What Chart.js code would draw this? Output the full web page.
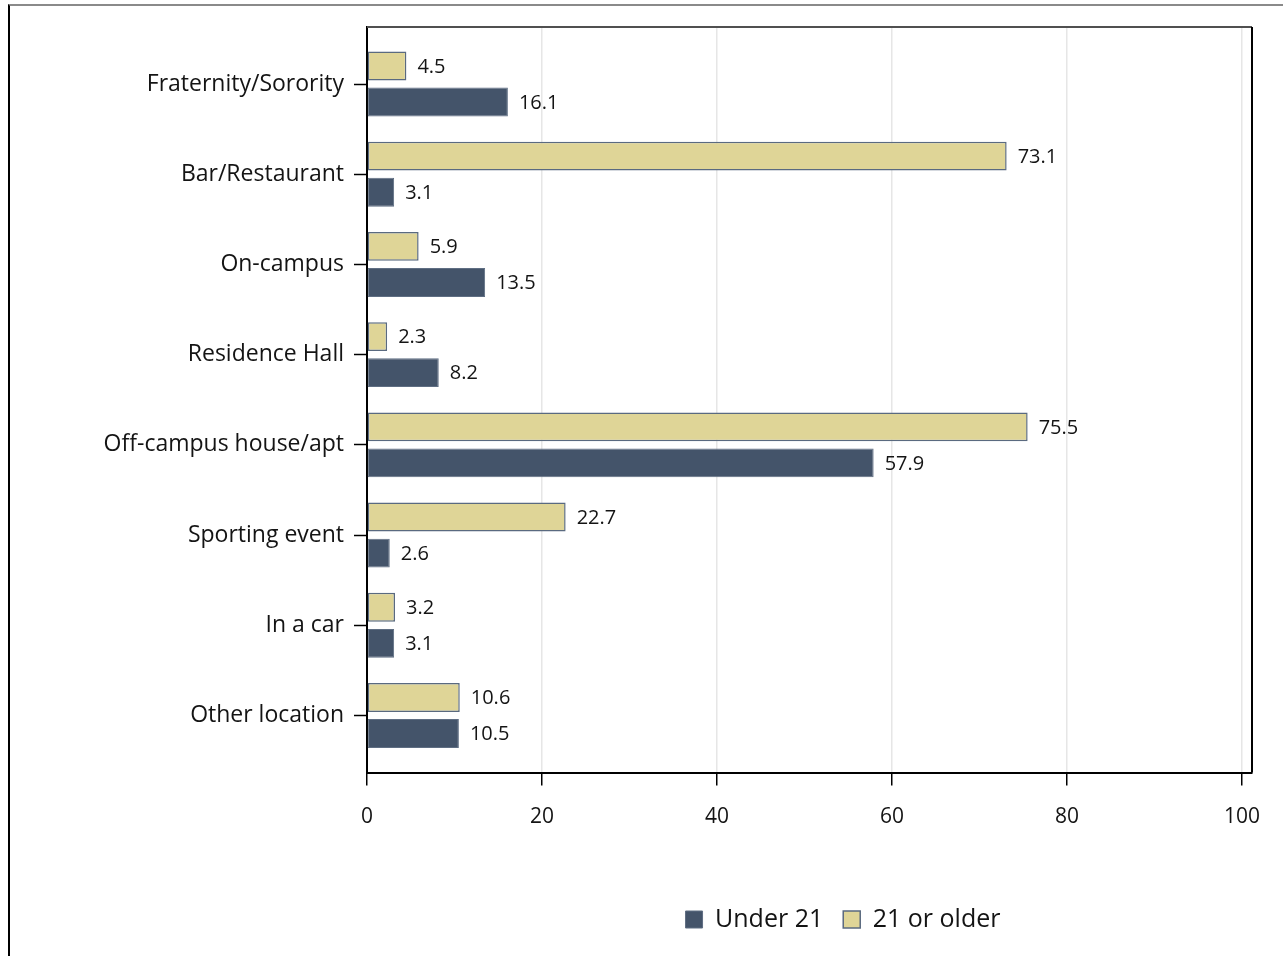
<!DOCTYPE html>
<html>
<head>
<meta charset="utf-8">
<title>Drinking location by age group</title>
<script src="https://cdn.jsdelivr.net/npm/chart.js@4.4.1/dist/chart.umd.min.js"></script>
<style>
    html, body { margin: 0; padding: 0; background: #fff; }
    #wrap { position: relative; width: 1283px; height: 956px; overflow: hidden; }
    #frame {
        position: absolute; left: 8px; top: 4px; right: -4px; bottom: -4px;
        border-top: 2px solid #8a8a8a; border-left: 2px solid #000;
        pointer-events: none;
    }
</style>
</head>
<body>
<div id="wrap">
    <canvas id="locationChart" width="1283" height="956"></canvas>
    <div id="frame"></div>
</div>
<script>
// Chart data
const categories = ['Fraternity/Sorority', 'Bar/Restaurant', 'On-campus', 'Residence Hall',
    'Off-campus house/apt', 'Sporting event', 'In a car', 'Other location'];
const under21 = [16.1, 3.1, 13.5, 8.2, 57.9, 2.6, 3.1, 10.5];
const olderThan21 = [4.5, 73.1, 5.9, 2.3, 75.5, 22.7, 3.2, 10.6];
const xTicks = [0, 20, 40, 60, 80, 100];

const FONT = "'Open Sans', sans-serif";
const TEXT = '#141414';

// value labels at the end of each bar
const barValueLabels = {
    id: 'barValueLabels',
    afterDatasetsDraw(chart) {
        const ctx = chart.ctx;
        ctx.save();
        ctx.font = '20px ' + FONT;
        ctx.fillStyle = TEXT;
        ctx.textAlign = 'left';
        ctx.textBaseline = 'middle';
        chart.data.datasets.forEach((ds, i) => {
            chart.getDatasetMeta(i).data.forEach((bar, j) => {
                ctx.fillText(ds.data[j].toFixed(1), bar.x + 11, bar.y + 1);
            });
        });
        ctx.restore();
    }
};

// top and right edges of the plot box, legend nudged right
const plotFrame = {
    id: 'plotFrame',
    afterLayout(chart) {
        const lg = chart.legend;
        const shift = 843 - (lg.left + lg.right) / 2;
        lg.left += shift;
        lg.right += shift;
    },
    afterDraw(chart) {
        const a = chart.chartArea;
        const ctx = chart.ctx;
        ctx.save();
        ctx.lineWidth = 2;
        ctx.strokeStyle = '#505050';
        ctx.beginPath();
        ctx.moveTo(a.left, a.top);
        ctx.lineTo(a.right, a.top);
        ctx.stroke();
        ctx.strokeStyle = '#000';
        ctx.beginPath();
        ctx.moveTo(a.right, a.top);
        ctx.lineTo(a.right, a.bottom);
        ctx.stroke();
        ctx.restore();
    }
};

const ctx = document.getElementById('locationChart').getContext('2d');
const locationChart = new Chart(ctx, {
    type: 'bar',
    data: {
        labels: categories.map((c, i) => i),
        datasets: [{
            label: '21 or older',
            data: olderThan21,
            backgroundColor: '#dfd597',
            borderColor: '#5a6a80',
            borderWidth: 1.5,
            borderSkipped: false
        }, {
            label: 'Under 21',
            data: under21,
            backgroundColor: '#44546a',
            borderColor: '#5f6e83',
            borderWidth: 1,
            borderSkipped: false
        }]
    },
    options: {
        indexAxis: 'y',
        responsive: false,
        animation: false,
        categoryPercentage: 0.8,
        barPercentage: 0.8,
        layout: {
            padding: { top: 27, right: 31, bottom: 14, left: 0 }
        },
        plugins: {
            legend: {
                position: 'bottom',
                reverse: true,
                labels: {
                    font: { family: FONT, size: 25 },
                    color: TEXT,
                    boxWidth: 17,
                    boxHeight: 17,
                    padding: 20
                }
            },
            tooltip: { enabled: false }
        },
        scales: {
            x: {
                type: 'linear',
                min: 0,
                max: 101.14,
                afterBuildTicks: function(scale) {
                    scale.ticks = xTicks.map(v => ({ value: v }));
                },
                afterFit: function(scale) {
                    scale.height = 114.5;
                },
                border: { color: '#000', width: 2 },
                grid: {
                    color: ctx => (ctx.tick && ctx.tick.value === 0) ? 'rgba(0,0,0,0)' : '#e6e6e6',
                    lineWidth: 1.5,
                    tickColor: '#000',
                    tickLength: 13,
                    tickWidth: 1.5
                },
                ticks: {
                    font: { family: FONT, size: 21 },
                    color: TEXT,
                    padding: 19,
                    maxRotation: 0
                }
            },
            y: {
                type: 'linear',
                reverse: true,
                offset: false,
                min: -0.632,
                max: 7.632,
                afterBuildTicks: function(scale) {
                    scale.ticks = categories.map((c, i) => ({ value: i }));
                },
                afterFit: function(scale) {
                    scale.width = 367;
                },
                border: { color: '#000', width: 2 },
                grid: {
                    offset: false,
                    drawOnChartArea: false,
                    tickColor: '#000',
                    tickLength: 13,
                    tickWidth: 1.5
                },
                ticks: {
                    font: { family: FONT, size: 23 },
                    color: TEXT,
                    padding: 10,
                    autoSkip: false,
                    callback: function(value) {
                        return categories[value] !== undefined ? categories[value] : '';
                    }
                }
            }
        }
    },
    plugins: [barValueLabels, plotFrame]
});
</script>
</body>
</html>
